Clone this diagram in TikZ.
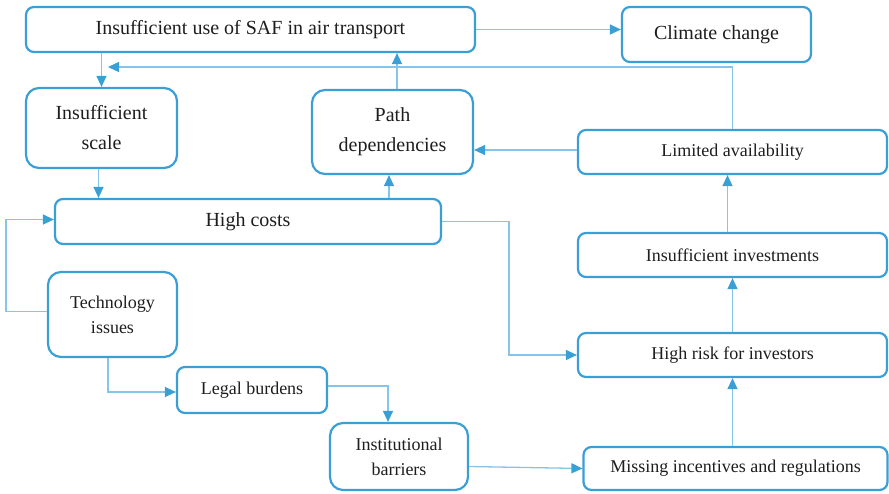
\documentclass[tikz,border=0pt]{standalone}
\usepackage{fontspec}
\setmainfont{Liberation Serif}
\usetikzlibrary{arrows.meta,calc}
\definecolor{boxblue}{HTML}{3A9FD5}
\definecolor{linkblue}{HTML}{86C5E8}
\definecolor{ink}{HTML}{1E1E1E}
\begin{document}
\begin{tikzpicture}[x=1pt,y=-1pt,
  box/.style={draw=boxblue, line width=2.2pt, rounded corners=8pt, fill=white,
    text=ink, align=center, inner sep=0pt},
  tall/.style={rounded corners=13pt},
  big/.style={font=\fontsize{20}{30}\selectfont},
  small/.style={font=\fontsize{18}{25}\selectfont},
  link/.style={draw=linkblue, line width=1.3pt,
    -{Triangle[length=11pt,width=10pt,color=boxblue]}},
  ]
\useasboundingbox (0,0) rectangle (889,493);

% boxes
\node[box,big,minimum width=449pt,minimum height=45pt] (saf) at (250.5,29.5)
  {Insufficient use of SAF in air transport};
\node[box,big,minimum width=189pt,minimum height=55pt] (climate) at (716.5,34.5)
  {Climate change};
\node[box,tall,big,minimum width=151pt,minimum height=80pt] (scale) at (101.5,128)
  {Insufficient\\scale};
\node[box,tall,big,minimum width=161pt,minimum height=84pt] (path) at (392.5,132)
  {Path\\dependencies};
\node[box,big,minimum width=386pt,minimum height=45pt] (costs) at (248,221.5)
  {High costs};
\node[box,small,minimum width=309pt,minimum height=44pt] (limited) at (732.5,152)
  {Limited availability};
\node[box,small,minimum width=309pt,minimum height=44pt] (invest) at (732.5,255)
  {Insufficient investments};
\node[box,tall,small,minimum width=129pt,minimum height=85pt] (tech) at (112.5,314.5)
  {Technology\\issues};
\node[box,small,minimum width=309pt,minimum height=44pt] (risk) at (732.5,355)
  {High risk for investors};
\node[box,small,minimum width=150pt,minimum height=46pt] (legal) at (252,390)
  {Legal burdens};
\node[box,tall,small,minimum width=138pt,minimum height=67pt] (inst) at (399,456.5)
  {Institutional\\barriers};
\node[box,small,minimum width=304pt,minimum height=43pt] (missing) at (735.5,468.5)
  {Missing incentives and regulations};

% helper points for the open-ended and bent connectors
\coordinate (fbtip) at (108,67);
\coordinate (bendA) at (509,0);

% connectors
\draw[link] (saf.east) -- (saf.east -| climate.west);
\draw[link] (limited.north) |- (fbtip);
\draw[link] (scale.north |- saf.south) -- (scale.north);
\draw[link] ([xshift=4.5pt]path.north) -- ([xshift=4.5pt]path.north |- saf.south);
\draw[link] ([xshift=-3pt]scale.south) -- ([xshift=-3pt]scale.south |- costs.north);
\draw[link] ([xshift=-3.5pt]path.south |- costs.north) -- ([xshift=-3.5pt]path.south);
\draw[link] ([yshift=2pt]limited.west) -- ([yshift=2pt]limited.west -| path.east);
\draw[link] ([yshift=3pt]tech.west) -- ++(-41,0) |- ([yshift=2pt]costs.west);
\draw[link] (costs.east) -- (costs.east -| bendA) |- (risk.west);
\draw[link] ([xshift=-4.5pt]tech.south) |- ([yshift=-2pt]legal.west);
\draw[link] ([yshift=4pt]legal.east) -| ([xshift=-11pt]inst.north);
\draw[link] ([yshift=-10pt]inst.east) -- (missing.west);
\draw[link] (risk.south |- missing.north) -- (risk.south);
\draw[link] (risk.north) -- (invest.south);
\draw[link] ([xshift=-5pt]invest.north) -- ([xshift=-5pt]limited.south);
\end{tikzpicture}
\end{document}
